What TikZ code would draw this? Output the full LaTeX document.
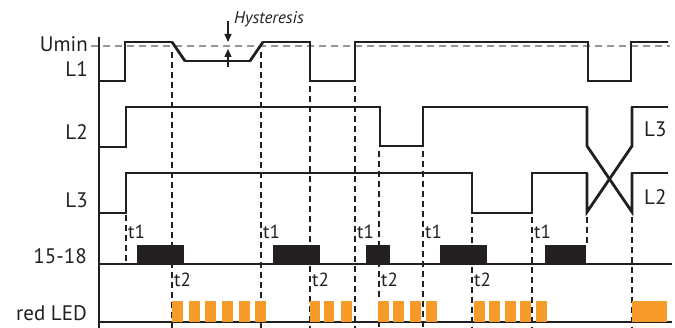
\documentclass[tikz,border=0pt]{standalone}
\usepackage{fontspec}
\setmainfont{PT Sans}
\usetikzlibrary{arrows.meta}
\definecolor{ledorange}{RGB}{246,154,42}
\definecolor{relayblack}{RGB}{35,31,32}
\definecolor{umingray}{RGB}{150,150,150}
\begin{document}
\begin{tikzpicture}[x=1pt,y=-1pt,
  wave/.style={line width=1.6pt, relayblack},
  edgeline/.style={line width=2.8pt, relayblack},
  guide/.style={line width=1.3pt, relayblack, dash pattern=on 6pt off 4pt},
  uminline/.style={line width=1.5pt, umingray, dash pattern=on 7pt off 5pt},
  axisline/.style={line width=2.8pt, relayblack},
  baseline/.style={line width=1.5pt, relayblack},
  lbl/.style={font=\fontsize{21}{21}\selectfont, anchor=east, inner sep=0pt, text=relayblack},
  rlbl/.style={font=\fontsize{21}{21}\selectfont, anchor=west, inner sep=0pt, text=relayblack},
  tlbl/.style={font=\fontsize{19}{19}\selectfont, anchor=west, inner sep=0pt, text=relayblack},
  relayblock/.style={fill=relayblack, draw=none},
  ledblock/.style={fill=ledorange, draw=none},
  hyarrow/.style={line width=1.3pt, relayblack, -{Triangle[length=8pt,width=7pt]}}
]
\useasboundingbox (0,0) rectangle (675,328);

% Umin reference line
\draw[uminline] (91,46) -- (670,46);

% vertical guide lines
\draw[guide] (126,215) -- (126,264);
\draw[guide] (172,52) -- (172,328);
\draw[guide] (261,52) -- (261,328);
\draw[guide] (310,86) -- (310,328);
\draw[guide] (355,86) -- (355,328);
\draw[guide] (379,151) -- (379,328);
\draw[guide] (423,151) -- (423,328);
\draw[guide] (472,217) -- (472,328);
\draw[guide] (532,217) -- (532,328);
\draw[guide] (587,217) -- (587,245);
\draw[guide] (632,217) -- (632,328);

% axis and baselines
\draw[axisline] (99,37) -- (99,328);
\draw[baseline] (99,264) -- (672,264);
\draw[baseline] (99,322) -- (672,322);

% L1
\draw[wave] (99,81) -- (125,81) -- (125,42) -- (172,42) -- (185,61) -- (250,61) -- (263,42)
  -- (310,42) -- (310,81) -- (355,81) -- (355,42) -- (588,42) -- (588,81) -- (631,81)
  -- (631,42) -- (668,42);
\draw[edgeline] (125,81) -- (125,42);
\draw[edgeline] (172,42) -- (185,61);
\draw[edgeline] (250,61) -- (263,42);
\draw[edgeline] (310,42) -- (310,81);
\draw[edgeline] (355,81) -- (355,42);
\draw[edgeline] (588,42) -- (588,81);
\draw[edgeline] (631,81) -- (631,42);

% L2 (upper trace)
\draw[wave] (99,147) -- (126,147) -- (126,107) -- (380,107) -- (380,146) -- (423,146)
  -- (423,107) -- (587,107) -- (587,146) -- (632,212) -- (632,173) -- (668,173);
\draw[edgeline] (126,147) -- (126,107);
\draw[edgeline] (380,107) -- (380,146);
\draw[edgeline] (423,146) -- (423,107);
\draw[edgeline] (587,107) -- (587,146) -- (632,212) -- (632,173);

% L3 (lower trace)
\draw[wave] (99,213) -- (126,213) -- (126,173) -- (472,173) -- (472,213) -- (532,213)
  -- (532,173) -- (587,173) -- (587,212) -- (632,146) -- (632,107) -- (668,107);
\draw[edgeline] (126,213) -- (126,173);
\draw[edgeline] (472,173) -- (472,213);
\draw[edgeline] (532,213) -- (532,173);
\draw[edgeline] (587,173) -- (587,212) -- (632,146) -- (632,107);

% relay 15-18 blocks
\foreach \a/\b in {137/184, 273/320, 366/390, 440/487, 545/586}
  \fill[relayblock] (\a,245) rectangle (\b,264);

% red LED blocks
\foreach \a/\b in {172/183, 189/200, 205/216, 222/233, 239/250, 255/266,
                   310/320, 324/334, 341/352,
                   378/389, 393/404, 410/421, 426/437,
                   474/485, 489/500, 505/516, 520/531, 536/547,
                   632/667}
  \fill[ledblock] (\a,301) rectangle (\b,322);

% hysteresis
\coordinate (hyTopStart) at (228,21);
\coordinate (hyTopEnd) at (228,42);
\coordinate (hyBotStart) at (228,67);
\coordinate (hyBotEnd) at (228,49);
\draw[hyarrow] (hyTopStart) -- (hyTopEnd);
\draw[hyarrow] (hyBotStart) -- (hyBotEnd);
\node[font=\fontsize{17}{17}\selectfont\itshape, anchor=west, inner sep=0pt, text=relayblack] (hyst) at (234,19) {Hysteresis};

% left labels
\node[lbl] (umin) at (88,44) {Umin};
\node[lbl] (l1) at (88,69) {L1};
\node[lbl] (l2) at (88,132) {L2};
\node[lbl] (l3) at (88,200) {L3};
\node[lbl] (relay) at (87,256) {15-18};
\node[lbl] (led) at (87,313) {red LED};

% right labels
\node[rlbl] (r3) at (644,129) {L3};
\node[rlbl] (r2) at (644,197) {L2};

% timing labels
\node[tlbl] (ta) at (128,232) {t1};
\node[tlbl] (tb) at (263,232) {t1};
\node[tlbl] (tc) at (357,232) {t1};
\node[tlbl] (td) at (425,232) {t1};
\node[tlbl] (te) at (534,232) {t1};
\node[tlbl] (tf) at (174,280) {t2};
\node[tlbl] (tg) at (312,280) {t2};
\node[tlbl] (th) at (381,280) {t2};
\node[tlbl] (ti) at (474,280) {t2};
\end{tikzpicture}
\end{document}
